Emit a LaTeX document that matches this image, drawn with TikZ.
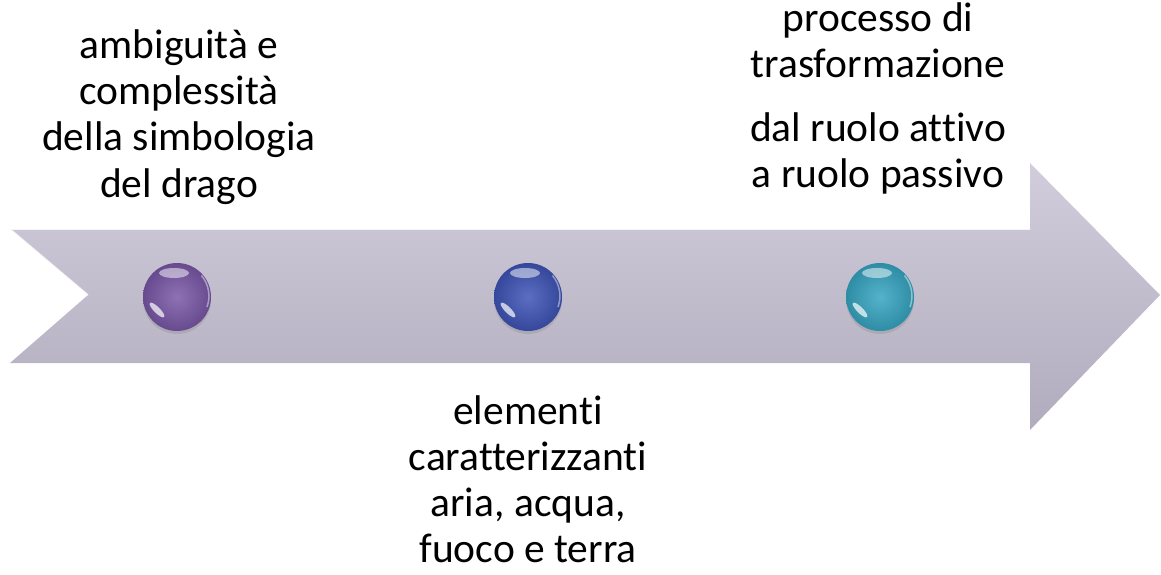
\documentclass[tikz,border=0pt]{standalone}
\usepackage{fontspec}
\setmainfont{Carlito}[Ligatures={NoCommon,NoContextual}]
\usetikzlibrary{positioning,shadows}

\definecolor{arrowtop}{RGB}{209,205,220}
\definecolor{arrowbot}{RGB}{176,172,189}
\definecolor{beadpurple}{RGB}{122,88,168}
\definecolor{beadblue}{RGB}{62,84,182}
\definecolor{beadcyan}{RGB}{54,166,194}

\tikzset{
  every picture/.style = {x=1pt, y=1pt},
  caption/.style = {
    align=center,
    inner sep=0pt,
    font=\fontsize{41.5}{46}\selectfont
  },
  bead/.style = {
    circle,
    minimum size=68pt,
    inner sep=0pt,
    inner color=#1!85!white,
    outer color=#1!85!black,
    drop shadow={shadow xshift=0pt, shadow yshift=-3pt, opacity=0.25}
  },
  gloss/.pic = {
    % top shine and lower-left streak
    \fill[white, opacity=0.5] (-3,24) ellipse (15 and 5);
    \fill[white, opacity=0.7, rotate around={-45:(-20,-13)}] (-20,-13) ellipse (10 and 3);
    \draw[white, opacity=0.45, line width=1.5pt] (30,-10) arc (-20:40:32);
  }
}

\begin{document}
\begin{tikzpicture}
  \useasboundingbox (0,0) rectangle (1161,574);

  % the arrow
  \shade[top color=arrowtop, bottom color=arrowbot]
    (10,345) -- (1030,345) -- (1030,411) -- (1160,279) -- (1030,144)
    -- (1030,211) -- (10,211) -- (88,279) -- cycle;
  \draw[white, opacity=0.8, line width=1.5pt] (88,279) -- (10,345) -- (1030,345);

  % stations
  \node[bead=beadpurple] (d1) at (177,277) {};
  \node[bead=beadblue]   (d2) at (528,277) {};
  \node[bead=beadcyan]   (d3) at (880,277) {};
  \pic at (d1) {gloss};
  \pic at (d2) {gloss};
  \pic at (d3) {gloss};

  % texts (base = last line)
  \node[caption, anchor=base] (simb) at (179,377)
    {ambiguità e\\complessità\\della simbologia\\del drago};
  \node[caption, anchor=base] (proc) at (878,496)
    {processo di\\trasformazione};
  \node[caption, anchor=base] (ruolo) at (878,386)
    {dal ruolo attivo\\a ruolo passivo};
  \node[caption, anchor=base] (elem) at (528,12)
    {elementi\\caratterizzanti\\aria, acqua,\\fuoco e terra};
\end{tikzpicture}
\end{document}
